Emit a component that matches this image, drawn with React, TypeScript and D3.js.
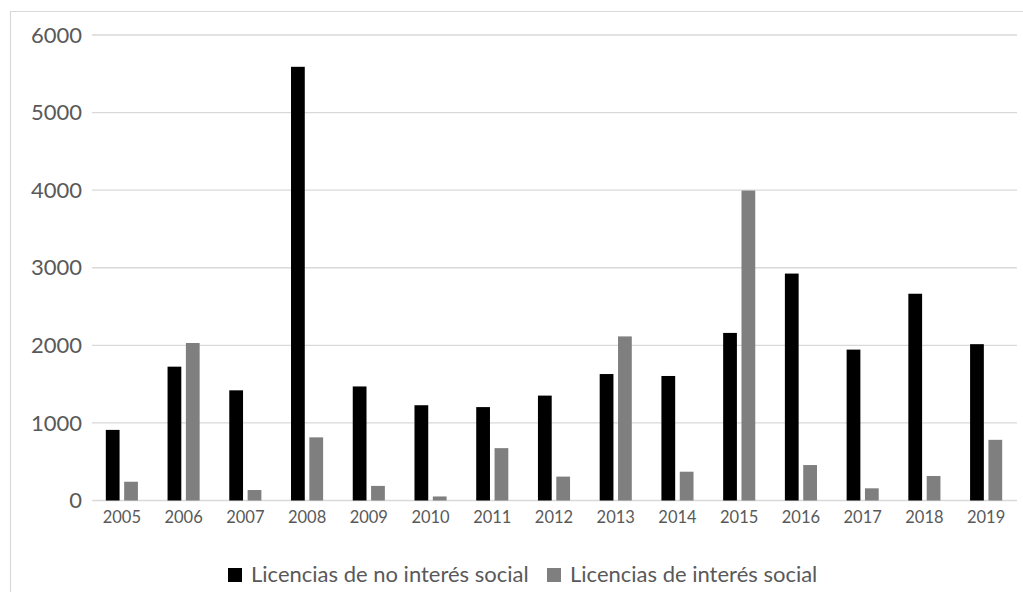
import * as d3 from 'd3'

const years = ['2005', '2006', '2007', '2008', '2009', '2010', '2011', '2012', '2013', '2014', '2015', '2016', '2017', '2018', '2019']
const noSocial = [910, 1725, 1420, 5590, 1470, 1228, 1204, 1352, 1630, 1605, 2160, 2925, 1945, 2665, 2015]
const social = [242, 2030, 135, 814, 188, 52, 675, 308, 2115, 371, 3995, 457, 157, 316, 782]
const yTicks = [0, 1000, 2000, 3000, 4000, 5000, 6000]
const seriesNames = ['Licencias de no interés social', 'Licencias de interés social']
const seriesColors = ['#000000', '#7f7f7f']

const W = 1023
const H = 592
const font = 'Lato, "Open Sans", sans-serif'

export default function App() {
  const y = d3.scaleLinear().domain([0, 6000]).range([500.5, 35])
  const x = d3.scaleBand<string>().domain(years).range([91, 1017]).paddingInner(0.48).paddingOuter(0.24)
  const x1 = d3.scaleBand<number>().domain([0, 1]).range([0, x.bandwidth()]).paddingInner(0.25)
  const series = [noSocial, social]

  return (
    <svg width={W} height={H} style={{ position: 'absolute', left: 0, top: 0 }}>
      <rect x={0} y={0} width={W} height={H} fill="#fff" />
      <path d={`M10.5,${H} V11.5 H${W}`} fill="none" stroke="#d9d9d9" strokeWidth={1.2} />

      {yTicks.map(t => (
        <g key={t}>
          <line x1={92} x2={1017} y1={y(t)} y2={y(t)} stroke="#d9d9d9" strokeWidth={1.3} />
          <text x={82} y={y(t)} dy="0.35em" textAnchor="end" fontFamily={font} fontSize={22} fill="#595959">
            {t}
          </text>
        </g>
      ))}

      {series.map((vals, si) =>
        vals.map((v, i) => (
          <rect
            key={`${si}-${i}`}
            x={(x(years[i]) ?? 0) + (x1(si) ?? 0)}
            y={y(v)}
            width={x1.bandwidth()}
            height={y(0) - y(v)}
            fill={seriesColors[si]}
          />
        ))
      )}

      {years.map(yr => (
        <text key={yr} x={(x(yr) ?? 0) + x.bandwidth() / 2} y={517} dy="0.35em" textAnchor="middle" fontFamily={font} fontSize={16.5} fill="#595959">
          {yr}
        </text>
      ))}

      {seriesNames.map((name, i) => {
        const lx = [228, 547][i]
        return (
          <g key={name}>
            <rect x={lx} y={568} width={14} height={14} fill={seriesColors[i]} />
            <text x={lx + 23} y={582} fontFamily={font} fontSize={22} fill="#595959">
              {name}
            </text>
          </g>
        )
      })}
    </svg>
  )
}
